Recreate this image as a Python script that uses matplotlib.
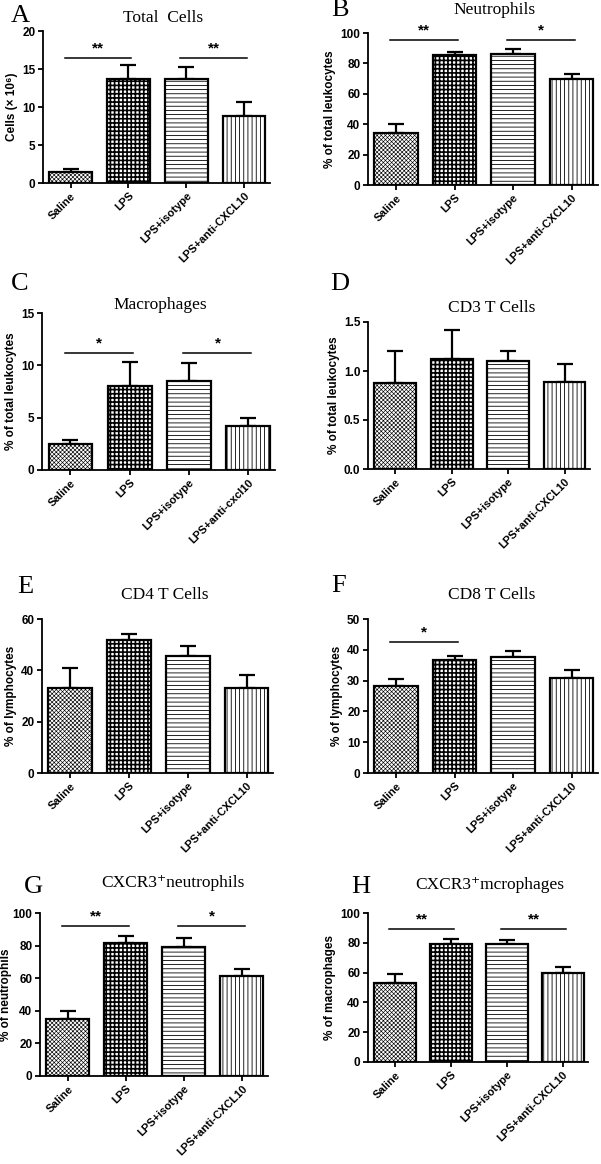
import matplotlib
matplotlib.use("Agg")
import matplotlib.pyplot as plt

# Datos
grupos = ['Saline', 'LPS', 'LPS+isotype', 'LPS+anti-CXCL10']
grupos_c = ['Saline', 'LPS', 'LPS+isotype', 'LPS+anti-cxcl10']

total_media = [1.5, 13.7, 13.7, 8.8]
total_err = [0.4, 1.8, 1.5, 1.8]
neutro_media = [33.9, 85.3, 86.0, 70.0]
neutro_err = [6.1, 2.2, 3.3, 3.3]
macro_media = [2.5, 8.0, 8.5, 4.2]
macro_err = [0.4, 2.3, 1.7, 0.8]
cd3_media = [0.876, 1.125, 1.105, 0.89]
cd3_err = [0.324, 0.29, 0.095, 0.18]
cd4_media = [33.0, 51.7, 45.6, 33.3]
cd4_err = [8.0, 2.4, 3.9, 5.0]
cd8_media = [28.1, 36.6, 37.7, 30.7]
cd8_err = [2.3, 1.5, 2.0, 2.8]
cxcr3n_media = [34.9, 81.5, 79.0, 61.6]
cxcr3n_err = [4.9, 4.5, 5.6, 4.3]
cxcr3m_media = [53.0, 79.5, 79.0, 59.9]
cxcr3m_err = [6.2, 3.3, 3.0, 3.8]

W, H = 601, 1164
fig = plt.figure(figsize=(W / 100, H / 100), dpi=100)

# trama y grosor de linea de la trama para cada grupo
tramas = ['xxxxxxxx', '++++', '----', '||||']
grosor_trama = [0.45, 1.2, 0.6, 0.6]
sans = ['Liberation Sans', 'DejaVu Sans']
serif = ['Liberation Serif', 'DejaVu Serif']

# (letra, titulo, etiquetas, medias, errores, ylabel, ymax, paso, sig, caja px, pos titulo, pos letra, pad)
paneles = [
    ('A', 'Total  Cells', grupos, total_media, total_err, 'Cells (× 10⁶)', 20, 5,
     [(0, 1, '**', 16.5), (2, 3, '**', 16.5)], (43, 270, 31, 183), (163, 18), (20, 16), 3),
    ('B', 'Neutrophils', grupos, neutro_media, neutro_err, '% of total leukocytes', 100, 20,
     [(0, 1, '**', 95.6), (2, 3, '*', 95.6)], (368, 598, 33, 185), (495, 10), (340, 10), 3),
    ('C', 'Macrophages', grupos_c, macro_media, macro_err, '% of total leukocytes', 15, 5,
     [(0, 1, '*', 11.2), (2, 3, '*', 11.2)], (42, 275, 313, 470), (160, 305), (20, 284), 3),
    ('D', 'CD3 T Cells', grupos, cd3_media, cd3_err, '% of total leukocytes', 1.5, 0.5,
     [], (368, 590, 322, 469), (492, 308), (340, 284), 3),
    ('E', 'CD4 T Cells', grupos, cd4_media, cd4_err, '% of lymphocytes', 60, 20,
     [], (42, 273, 619, 773), (165, 595), (25, 587), 3),
    ('F', 'CD8 T Cells', grupos, cd8_media, cd8_err, '% of lymphocytes', 50, 10,
     [(0, 1, '*', 42.5)], (368, 598, 619, 773), (492, 595), (339, 586), 3),
    ('G', 'CXCR3⁺neutrophils', grupos, cxcr3n_media, cxcr3n_err, '% of neutrophils', 100, 20,
     [(0, 1, '**', 91.8), (2, 3, '*', 91.8)], (40, 268, 913, 1076), (173, 883), (33, 887), 0.5),
    ('H', 'CXCR3⁺mcrophages', grupos, cxcr3m_media, cxcr3m_err, '% of macrophages', 100, 20,
     [(0, 1, '**', 89.5), (2, 3, '**', 89.5)], (368, 588, 913, 1062), (490, 885), (361, 887), 3),
]

for letra, titulo, etiquetas, medias, errores, ylab, ymax, paso, sigs, caja, ptit, plet, pad in paneles:
    x0, x1, y0, y1 = caja
    ax = fig.add_axes([x0 / W, 1 - y1 / H, (x1 - x0) / W, (y1 - y0) / H])
    pos = list(range(len(etiquetas)))
    for k in pos:
        with plt.rc_context({'hatch.linewidth': grosor_trama[k]}):
            ax.bar(k, medias[k], width=0.74, color='white', edgecolor='black', linewidth=1.6,
                   hatch=tramas[k], zorder=2)
    ax.errorbar(pos, medias, yerr=[[0] * len(medias), errores], fmt='none', ecolor='black',
                elinewidth=1.6, capsize=6, capthick=1.6, zorder=1)
    ax.set_xlim(-0.48, 3.45)
    ax.set_ylim(0, ymax)
    ticks = [i * paso for i in range(int(round(ymax / paso)) + 1)]
    ax.set_yticks(ticks)
    if paso < 1:
        ax.set_yticklabels([f'{t:.1f}' for t in ticks])
    ax.set_xticks(pos)
    ax.set_xticklabels(etiquetas, rotation=45, ha='right', rotation_mode='anchor',
                       fontsize=8, fontweight='bold', family=sans)
    for t in ax.get_yticklabels():
        t.set_fontsize(8.5)
        t.set_fontweight('bold')
        t.set_family(sans)
    ax.set_ylabel(ylab, fontsize=8.5, fontweight='bold', family=sans, labelpad=pad)
    for s in ['top', 'right']:
        ax.spines[s].set_visible(False)
    for s in ['left', 'bottom']:
        ax.spines[s].set_linewidth(1.3)
    ax.tick_params(axis='both', direction='out', width=1.3, length=3.5, pad=2)
    for i, j, estrella, y in sigs:
        ax.plot([i - 0.1, j + 0.05], [y, y], color='black', linewidth=1.1, clip_on=False)
        ax.text((i + j) / 2 - 0.02, y + ymax * 0.015, estrella, ha='center', va='bottom',
                fontsize=11, fontweight='bold', family=sans)
    fig.text(ptit[0] / W, 1 - ptit[1] / H, titulo, ha='center', va='center',
             fontsize=12.5, family=serif)
    fig.text(plet[0] / W, 1 - plet[1] / H, letra, ha='center', va='center',
             fontsize=19, family=serif)

fig.savefig('out.png', dpi=100, facecolor='white')
